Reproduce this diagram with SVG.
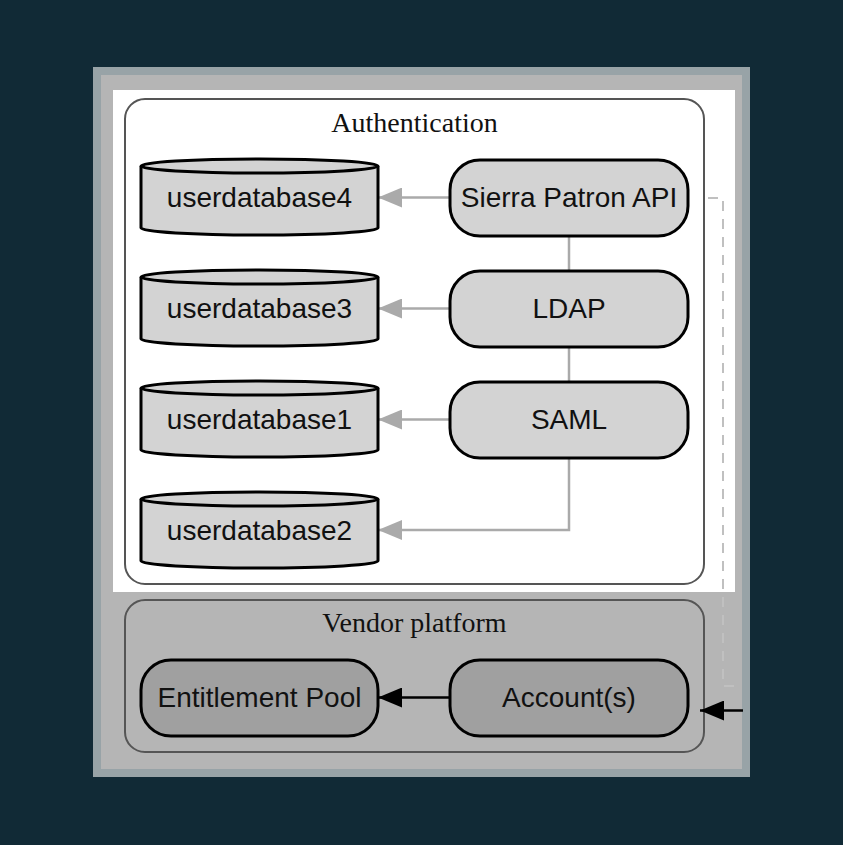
<svg xmlns="http://www.w3.org/2000/svg" width="843" height="845" viewBox="0 0 843 845">
<defs>
<style>
.lbl{font-family:"Liberation Sans",Arial,sans-serif;font-size:28px;fill:#111;text-anchor:middle}
.ttl{font-family:"Liberation Serif","Times New Roman",serif;font-size:28px;fill:#111;text-anchor:middle}
.db{fill:#d3d3d3;stroke:#000;stroke-width:3}
.rn{fill:#d3d3d3;stroke:#000;stroke-width:3}
.rd{fill:#a0a0a0;stroke:#000;stroke-width:3}
.ge{fill:none;stroke:#aaaaaa;stroke-width:2.5}
.be{fill:none;stroke:#000;stroke-width:2.5}
.dash{fill:none;stroke:#c0c0c0;stroke-width:2;stroke-dasharray:10 8}
</style>
<marker id="ag" markerWidth="24" markerHeight="20" refX="24" refY="10" orient="auto" markerUnits="userSpaceOnUse">
<path d="M0,0 L24,10 L0,20 Z" fill="#aaaaaa"/>
</marker>
<marker id="ab" markerWidth="24" markerHeight="20" refX="24" refY="10" orient="auto" markerUnits="userSpaceOnUse">
<path d="M0,0 L24,10 L0,20 Z" fill="#000"/>
</marker>
</defs>
<rect x="0" y="0" width="843" height="845" fill="#112a36"/>
<rect x="97" y="71" width="649" height="702" fill="#b5b5b5" stroke="#98a3a7" stroke-width="8"/>
<rect x="113" y="90" width="622" height="502" fill="#ffffff"/>

<g id="cluster_auth">
<rect x="125" y="99" width="579" height="485" rx="20" fill="#ffffff" stroke="#555" stroke-width="2"/>
<text class="ttl" x="414.5" y="132">Authentication</text>
</g>
<g id="cluster_vendor">
<rect x="125" y="600" width="579" height="152" rx="20" fill="#b5b5b5" stroke="#555" stroke-width="2"/>
<text class="ttl" x="414.5" y="632">Vendor platform</text>
</g>

<g id="connectors">
<path class="ge" d="M450,197.5 H378" marker-end="url(#ag)"/>
<path class="ge" d="M450,308.5 H378" marker-end="url(#ag)"/>
<path class="ge" d="M450,419.5 H378" marker-end="url(#ag)"/>
<path class="ge" d="M569,457 V530 H378" marker-end="url(#ag)"/>
<path class="ge" d="M569,236 V271"/>
<path class="ge" d="M569,347 V382"/>
<path class="be" d="M450,697.5 H378" marker-end="url(#ab)"/>
<path class="dash" d="M708,198 H723 V686 H742"/>
<path class="be" d="M743,710.5 H700" marker-end="url(#ab)"/>
</g>

<g id="userdatabase4">
<path class="db" d="M141,166 V228 A118.5,7 0 0 0 378,228 V166"/>
<ellipse class="db" cx="259.5" cy="166" rx="118.5" ry="7"/>
<text class="lbl" x="259.5" y="207">userdatabase4</text>
</g>
<g id="userdatabase3">
<path class="db" d="M141,277 V339 A118.5,7 0 0 0 378,339 V277"/>
<ellipse class="db" cx="259.5" cy="277" rx="118.5" ry="7"/>
<text class="lbl" x="259.5" y="318">userdatabase3</text>
</g>
<g id="userdatabase1">
<path class="db" d="M141,388 V450 A118.5,7 0 0 0 378,450 V388"/>
<ellipse class="db" cx="259.5" cy="388" rx="118.5" ry="7"/>
<text class="lbl" x="259.5" y="429">userdatabase1</text>
</g>
<g id="userdatabase2">
<path class="db" d="M141,499 V561 A118.5,7 0 0 0 378,561 V499"/>
<ellipse class="db" cx="259.5" cy="499" rx="118.5" ry="7"/>
<text class="lbl" x="259.5" y="540">userdatabase2</text>
</g>

<g id="sierra">
<rect class="rn" x="450" y="160" width="238" height="76" rx="30"/>
<text class="lbl" x="569" y="207">Sierra Patron API</text>
</g>
<g id="ldap">
<rect class="rn" x="450" y="271" width="238" height="76" rx="30"/>
<text class="lbl" x="569" y="318">LDAP</text>
</g>
<g id="saml">
<rect class="rn" x="450" y="382" width="238" height="76" rx="30"/>
<text class="lbl" x="569" y="429">SAML</text>
</g>

<g id="entitlement">
<rect class="rd" x="141" y="660" width="237" height="76" rx="30"/>
<text class="lbl" x="259.5" y="707">Entitlement Pool</text>
</g>
<g id="accounts">
<rect class="rd" x="450" y="660" width="238" height="76" rx="30"/>
<text class="lbl" x="569" y="707">Account(s)</text>
</g>
</svg>
